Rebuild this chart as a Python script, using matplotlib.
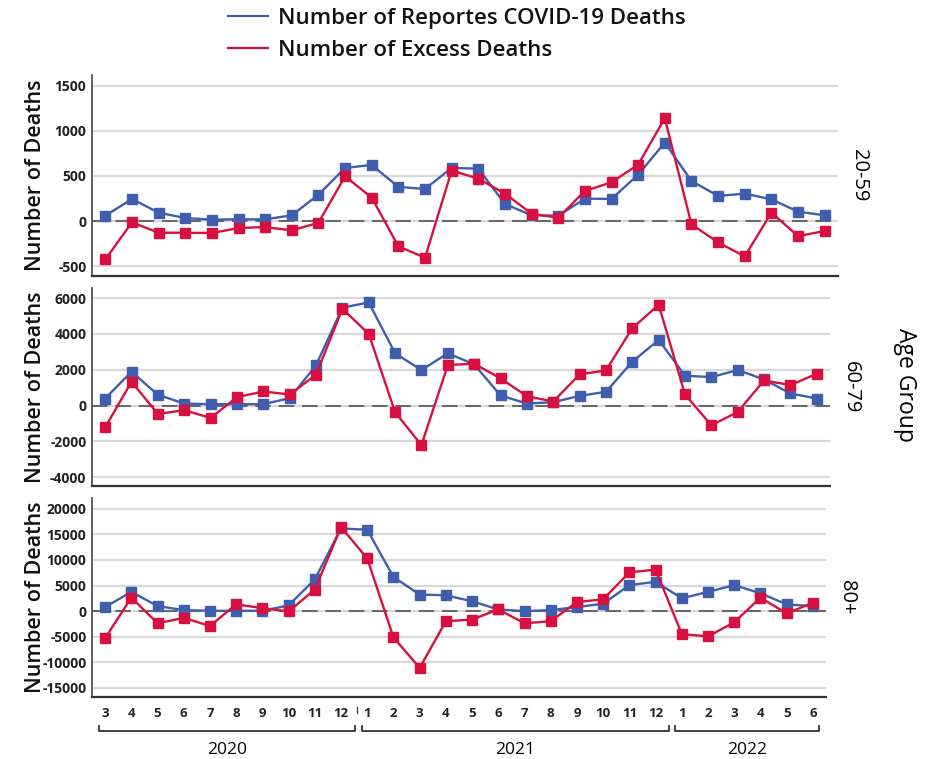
import matplotlib
matplotlib.use("Agg")
import matplotlib.pyplot as plt
from matplotlib.lines import Line2D
import matplotlib.transforms as mtransforms

plt.rcParams['font.family'] = ['Open Sans', 'DejaVu Sans']

months = ['3', '4', '5', '6', '7', '8', '9', '10', '11', '12',
          '1', '2', '3', '4', '5', '6', '7', '8', '9', '10', '11', '12',
          '1', '2', '3', '4', '5', '6']
years = ['2020', '2021', '2022']
age_groups = ['20-59', '60-79', '80+']

covid_20_59 = [59, 244, 93, 33, 15, 19, 19, 63, 293, 589,
               622, 378, 356, 589, 581, 189, 63, 59, 248, 245, 515, 870,
               444, 278, 304, 241, 104, 63]
excess_20_59 = [-426, -15, -130, -130, -133, -78, -67, -104, -19, 496,
                259, -281, -407, 560, 470, 304, 81, 37, 333, 430, 626, 1141,
                -37, -237, -393, 93, -167, -111]

covid_60_79 = [392, 1888, 598, 112, 75, 75, 75, 411, 2243, 5458,
               5757, 2916, 1981, 2916, 2299, 561, 112, 187, 542, 766, 2448, 3663,
               1663, 1589, 1981, 1458, 673, 392]
excess_60_79 = [-1215, 1327, -467, -262, -692, 467, 785, 617, 1720, 5401,
                4000, -374, -2205, 2262, 2336, 1514, 523, 224, 1738, 1962, 4317, 5626,
                617, -1103, -355, 1402, 1140, 1776]

covid_80 = [792, 3762, 990, 198, 66, 66, 66, 1122, 6205, 16172,
            15908, 6667, 3234, 3102, 1914, 330, 0, 198, 792, 1452, 5082, 5742,
            2508, 3762, 5082, 3498, 1320, 990]
excess_80 = [-5281, 2640, -2376, -1320, -2904, 1320, 594, -66, 4224, 16436,
             10297, -5149, -11089, -1980, -1650, 330, -2376, -1980, 1782, 2310, 7590, 8118,
             -4488, -4950, -2178, 2640, -462, 1650]

yticks_20_59 = [-500, 0, 500, 1000, 1500]
yticks_60_79 = [-4000, -2000, 0, 2000, 4000, 6000]
yticks_80 = [-15000, -10000, -5000, 0, 5000, 10000, 15000, 20000]

BLUE = '#3F5EAD'
RED = '#D8103F'
W, H = 932, 759

fig = plt.figure(figsize=(W / 100, H / 100), dpi=100)


def px_axes(left, top, right, bottom):
    return fig.add_axes([left / W, 1 - bottom / H, (right - left) / W, (bottom - top) / H])


panels = [
    dict(rect=(92, 75, 838, 276), covid=covid_20_59, excess=excess_20_59,
         yticks=yticks_20_59, ylim=(-610, 1620), label=age_groups[0]),
    dict(rect=(92, 288, 830, 486), covid=covid_60_79, excess=excess_60_79,
         yticks=yticks_60_79, ylim=(-4490, 6560), label=age_groups[1]),
    dict(rect=(92, 498, 826, 697), covid=covid_80, excess=excess_80,
         yticks=yticks_80, ylim=(-16790, 22120), label=age_groups[2]),
]

x = list(range(len(months)))
axes = []
for i, p in enumerate(panels):
    ax = px_axes(*p['rect'])
    axes.append(ax)
    width_px = p['rect'][2] - p['rect'][0]
    ax.set_xlim(-0.5, len(months) - 0.5)
    ax.set_ylim(*p['ylim'])
    ax.set_yticks(p['yticks'])
    ax.set_yticklabels([str(v) for v in p['yticks']], fontsize=10, fontweight='bold', color='#222222')
    ax.yaxis.grid(True, color='#d9d9d9', linewidth=1.6, zorder=0)
    ax.set_axisbelow(True)
    ax.tick_params(axis='y', length=0, pad=4)
    ax.axhline(0, color='#666666', linewidth=1.4, dashes=(8, 4), zorder=1)
    ax.plot(x, p['covid'], color=BLUE, linewidth=1.7, marker='s', markersize=7,
            markeredgecolor=BLUE, zorder=3)
    ax.plot(x, p['excess'], color=RED, linewidth=1.7, marker='s', markersize=7,
            markeredgecolor=RED, zorder=3)
    for s in ['top', 'right']:
        ax.spines[s].set_visible(False)
    ax.spines['left'].set_color('#444444')
    ax.spines['left'].set_linewidth(1.2)
    ax.spines['bottom'].set_color('#333333')
    ax.spines['bottom'].set_linewidth(1.6)
    ax.set_ylabel('Number of Deaths', fontsize=15.5, fontweight='semibold', color='#111111')
    ax.yaxis.set_label_coords(-46 / width_px, 0.5)
    ax.text(1.028, 0.5, p['label'], transform=ax.transAxes, rotation=-90,
            ha='center', va='center', fontsize=14.5)
    if i < 2:
        ax.set_xticks([])
    else:
        ax.set_xticks(x)
        ax.set_xticklabels(months, fontsize=9.5, fontweight='bold', color='#222222')
        ax.tick_params(axis='x', length=0, pad=7)

fig.text(905 / W, 1 - 385 / H, 'Age Group', rotation=-90, ha='center', va='center', fontsize=16.5)

# year brackets
axb = axes[2]
trans = mtransforms.blended_transform_factory(axb.transData, fig.transFigure)
y_line = 1 - 731 / H
y_top = 1 - 726 / H
y_text = 1 - 750 / H
spans = [(-0.25, 9.55), (9.8, 21.5), (21.75, 27.25)]
for (a, b), yr in zip(spans, years):
    axb.add_line(Line2D([a, a, b, b], [y_top, y_line, y_line, y_top], transform=trans,
                        color='#222222', linewidth=1.2, clip_on=False))
    axb.text((a + b) / 2, y_text, yr, transform=trans, ha='center', va='center', fontsize=12.5)
axb.add_line(Line2D([9.62, 9.62], [1 - 707 / H, 1 - 713 / H], transform=trans,
                    color='#444444', linewidth=1.0, clip_on=False))

# legend
handles = [Line2D([], [], color=BLUE, linewidth=1.6),
           Line2D([], [], color=RED, linewidth=1.6)]
leg = fig.legend(handles, ['Number of Reportes COVID-19 Deaths', 'Number of Excess Deaths'],
                 loc='upper left', bbox_to_anchor=(219 / W, 1 + 1 / H), frameon=False,
                 prop={'size': 16, 'weight': 'semibold'}, handlelength=1.8,
                 handletextpad=0.45, labelspacing=0.48, borderaxespad=0.0)
for t in leg.get_texts():
    t.set_color('#111111')

fig.savefig('out.png', dpi=100)
